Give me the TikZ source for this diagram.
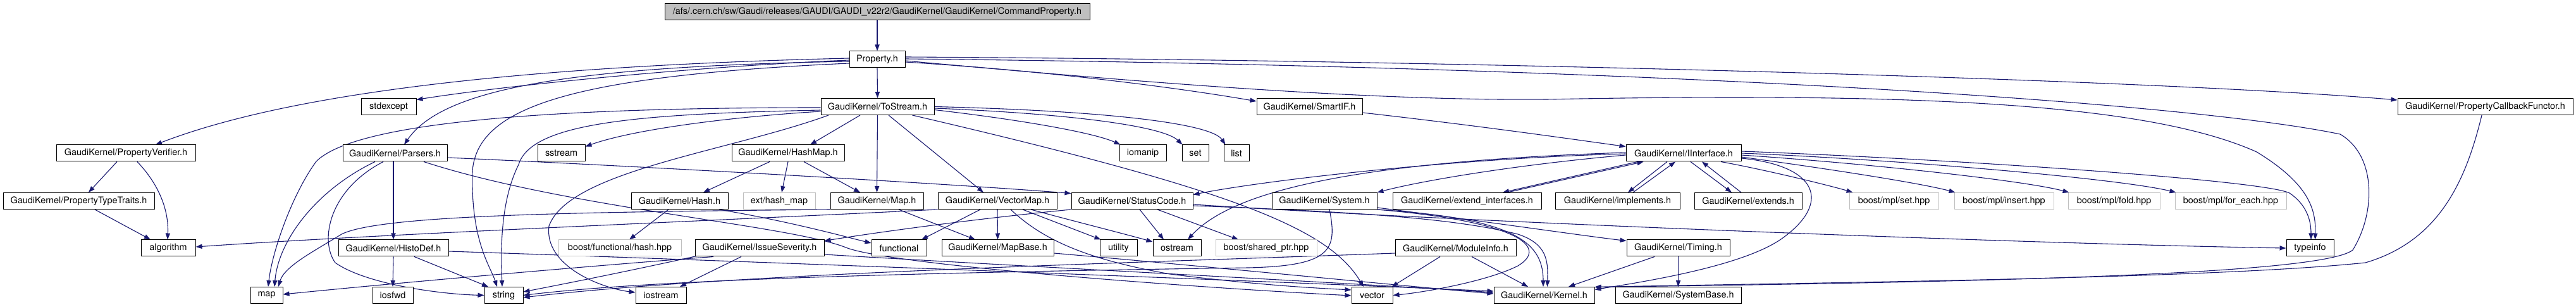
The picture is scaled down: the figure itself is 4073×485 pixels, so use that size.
\documentclass[tikz,border=0pt]{standalone}
\usepackage{fontspec}
\setmainfont{TeX Gyre Heros}
\usetikzlibrary{arrows.meta,calc}
\definecolor{edgec}{RGB}{25,25,112}
\definecolor{grayb}{RGB}{191,191,191}
\pgfdeclarelayer{back}
\pgfdeclarelayer{bg}
\pgfsetlayers{back,bg,main}
\tikzset{
  nd/.style={draw=black, line width=0.5pt, minimum height=13pt, inner sep=0pt, fill=white, font=\fontsize{7.2}{8.6}\selectfont},
  gnd/.style={nd, draw=grayb},
  mainnd/.style={nd, fill=grayb},
  edge/.style={draw=edgec, line width=0.55pt, -{Triangle[length=5pt,width=3.6pt]}},
}
\begin{document}
\begin{tikzpicture}[x=0.5pt,y=-0.5pt]
\begin{pgfonlayer}{back}
\fill[white] (0,0) rectangle (4073,485);
\end{pgfonlayer}
\useasboundingbox (0,0) rectangle (4073,485);
% row 0
\node[mainnd, minimum width=336pt] (main) at (1387,19) {/afs/.cern.ch/sw/Gaudi/releases/GAUDI/GAUDI\_v22r2/GaudiKernel/GaudiKernel/CommandProperty.h};
% row 1
\node[nd, minimum width=44pt] (property) at (1387,94) {Property.h};
% row 2
\node[nd, minimum width=43.5pt] (stdexcept) at (614.5,168.5) {stdexcept};
\node[nd, minimum width=89.5pt] (tostream) at (1387.5,168.5) {GaudiKernel/ToStream.h};
\node[nd, minimum width=83.5pt] (smartif) at (2070.5,168.5) {GaudiKernel/SmartIF.h};
\node[nd, minimum width=138.5pt] (callback) at (3929.5,168.5) {GaudiKernel/PropertyCallbackFunctor.h};
% row 3
\node[nd, minimum width=110pt] (propverifier) at (199,242) {GaudiKernel/PropertyVerifier.h};
\node[nd, minimum width=82.5pt] (parsers) at (624.5,242) {GaudiKernel/Parsers.h};
\node[nd, minimum width=37.5pt] (sstream) at (887.5,242) {sstream};
\node[nd, minimum width=89pt] (hashmap) at (1246,242) {GaudiKernel/HashMap.h};
\node[nd, minimum width=37pt] (iomanip) at (1807,242) {iomanip};
\node[nd, minimum width=21pt] (set) at (1890,242) {set};
\node[nd, minimum width=20pt] (list) at (1955,242) {list};
\node[nd, minimum width=91pt] (iinterface) at (2662,242) {GaudiKernel/IInterface.h};
% row 4
\node[nd, minimum width=119.5pt] (proptraits) at (124.5,317.5) {GaudiKernel/PropertyTypeTraits.h};
\node[nd, minimum width=76.5pt] (hash) at (1074.5,317.5) {GaudiKernel/Hash.h};
\node[gnd, minimum width=57pt] (exthashmap) at (1232,317.5) {ext/hash\_map};
\node[nd, minimum width=73.5pt] (maph) at (1386.5,317.5) {GaudiKernel/Map.h};
\node[nd, minimum width=94pt] (vectormap) at (1577,317.5) {GaudiKernel/VectorMap.h};
\node[nd, minimum width=96pt] (statuscode) at (1790,317.5) {GaudiKernel/StatusCode.h};
\node[nd, minimum width=83pt] (system) at (2094,317.5) {GaudiKernel/System.h};
\node[nd, minimum width=117.5pt] (extendif) at (2319.5,317.5) {GaudiKernel/extend\_interfaces.h};
\node[nd, minimum width=98.5pt] (implements) at (2557.5,317.5) {GaudiKernel/implements.h};
\node[nd, minimum width=85pt] (extends) at (2764,317.5) {GaudiKernel/extends.h};
\node[gnd, minimum width=70.5pt] (mplset) at (2994.5,317.5) {boost/mpl/set.hpp};
\node[gnd, minimum width=78.5pt] (mplinsert) at (3168.5,317.5) {boost/mpl/insert.hpp};
\node[gnd, minimum width=72.5pt] (mplfold) at (3342.5,317.5) {boost/mpl/fold.hpp};
\node[gnd, minimum width=88pt] (mplforeach) at (3527,317.5) {boost/mpl/for\_each.hpp};
% row 5
\node[nd, minimum width=43pt] (algorithm) at (266,392) {algorithm};
\node[nd, minimum width=87pt] (histodef) at (622,392) {GaudiKernel/HistoDef.h};
\node[gnd, minimum width=97pt] (boosthash) at (980,392) {boost/functional/hash.hpp};
\node[nd, minimum width=102pt] (issue) at (1201,392) {GaudiKernel/IssueSeverity.h};
\node[nd, minimum width=43.5pt] (functional) at (1421.5,392) {functional};
\node[nd, minimum width=88.5pt] (mapbase) at (1577.5,392) {GaudiKernel/MapBase.h};
\node[nd, minimum width=29.5pt] (utility) at (1768.5,392) {utility};
\node[nd, minimum width=38pt] (ostream) at (1861,392) {ostream};
\node[gnd, minimum width=80pt] (sharedptr) at (2002,392) {boost/shared\_ptr.hpp};
\node[nd, minimum width=95.5pt] (moduleinfo) at (2301.5,392) {GaudiKernel/ModuleInfo.h};
\node[nd, minimum width=81.5pt] (timing) at (2653.5,392) {GaudiKernel/Timing.h};
\node[nd, minimum width=37.5pt] (typeinfo) at (3652.5,392) {typeinfo};
% row 6
\node[nd, minimum width=25.5pt] (map) at (421.5,466.5) {map};
\node[nd, minimum width=32pt] (iosfwd) at (621,466.5) {iosfwd};
\node[nd, minimum width=30.5pt] (string) at (796.5,466.5) {string};
\node[nd, minimum width=40pt] (iostream) at (1045,466.5) {iostream};
\node[nd, minimum width=32.5pt] (vector) at (2169.5,466.5) {vector};
\node[nd, minimum width=79.5pt] (kernel) at (2441.5,466.5) {GaudiKernel/Kernel.h};
\node[nd, minimum width=99.5pt] (systembase) at (2653.5,466.5) {GaudiKernel/SystemBase.h};

\begin{pgfonlayer}{bg}
% CommandProperty.h / Property.h
\draw[edge] (main.south) -- (property.north);
\draw[edge] (property.south) -- (tostream.north);
\draw[edge] ($(property.west)+(0,-2)$) .. controls (800,105) and (450,150) .. ($(propverifier.north)+(47,0)$);
\draw[edge] ($(property.west)+(0,1)$) .. controls (1100,105) and (800,135) .. ($(stdexcept.north east)+(0,2.5)$);
\draw[edge] ($(property.west)+(0,3)$) .. controls (900,105) and (700,140) .. ($(parsers.north)+(14.5,0)$);
\draw[edge] ($(property.west)+(0,6)$) .. controls (900,120) and (755,170) .. (747,270) .. controls (744,380) and (775,420) .. ($(string.north)+(-10.5,0)$);
\draw[edge] ($(property.east)+(0,4)$) .. controls (1700,115) and (1900,145) .. ($(smartif.west)+(0,-8.5)$);
\draw[edge] ($(property.east)+(0,-4)$) .. controls (2300,95) and (3400,125) .. ($(callback.west)+(0,-10.5)$);
\draw[edge] ($(property.east)+(0,-1)$) .. controls (2600,105) and (3450,160) .. (3700,212) .. controls (3757,245) and (3757,335) .. (3720,395) .. controls (3670,435) and (3100,446) .. ($(kernel.east)+(0,-13)$);
\draw[edge] ($(property.east)+(0,2)$) .. controls (1750,125) and (2150,160) .. (2446,157) .. controls (3050,145) and (3400,165) .. (3568,240) .. controls (3650,290) and (3662,330) .. ($(typeinfo.north)+(8,0)$);
% ToStream.h
\draw[edge] ($(tostream.south)+(-27.5,0)$) -- ($(hashmap.north)+(35,0)$);
\draw[edge] (tostream.south) -- (maph.north);
\draw[edge] ($(tostream.south)+(17.5,0)$) -- ($(vectormap.north)+(-22,0)$);
\draw[edge] ($(tostream.east)+(0,5)$) .. controls (1620,190) and (1730,210) .. ($(iomanip.north west)+(2,0)$);
\draw[edge] ($(tostream.east)+(0,2.5)$) .. controls (1700,180) and (1840,200) .. ($(set.north west)+(1,0)$);
\draw[edge] (tostream.east) .. controls (1750,175) and (1915,195) .. ($(list.north west)+(3,0)$);
\draw[edge] ($(tostream.south)+(55,0)$) .. controls (1950,300) and (2100,360) .. ($(vector.north)+(-13.5,0)$);
\draw[edge] ($(tostream.west)+(0,7.5)$) .. controls (1150,185) and (1000,205) .. ($(sstream.north east)+(0,3)$);
\draw[edge] ($(tostream.west)+(0,1.5)$) .. controls (850,170) and (560,195) .. (500,255) .. controls (460,310) and (430,400) .. ($(map.north)+(2.5,0)$);
\draw[edge] ($(tostream.west)+(0,5.5)$) .. controls (1000,180) and (840,195) .. (820,260) .. controls (790,320) and (792,400) .. ($(string.north)+(-2.5,0)$);
\draw[edge] ($(tostream.south)+(-77.5,0)$) .. controls (1150,240) and (900,270) .. (868,357) .. controls (860,420) and (950,455) .. ($(iostream.west)+(0,-4.5)$);
% Parsers.h
\draw[edge] ($(parsers.south)+(-31.5,0)$) .. controls (500,300) and (440,380) .. ($(map.north)+(12.5,0)$);
\draw[edge] ($(parsers.south)+(-18.5,0)$) .. controls (520,300) and (505,380) .. (530,415) .. controls (580,450) and (700,465) .. (string.west);
\draw[edge] ($(parsers.south)+(-2.5,0)$) -- (histodef.north);
\draw[edge] ($(parsers.east)+(0,7)$) .. controls (1000,262) and (1500,290) .. ($(statuscode.north west)+(0,1.5)$);
\draw[edge] ($(parsers.south)+(45.5,0)$) .. controls (900,330) and (1250,355) .. (1340,392) .. controls (1420,420) and (1900,455) .. ($(vector.west)+(0,0.5)$);
% HistoDef.h
\draw[edge] (histodef.south) -- (iosfwd.north);
\draw[edge] ($(histodef.south)+(33,0)$) -- ($(string.north)+(-24.5,0)$);
\draw[edge] ($(histodef.east)+(0,5)$) .. controls (1100,410) and (1900,440) .. ($(kernel.west)+(0,-6.5)$);
% PropertyVerifier.h
\draw[edge] ($(propverifier.south)+(-14,0)$) -- ($(proptraits.north)+(15.5,0)$);
\draw[edge] ($(propverifier.south)+(18,0)$) .. controls (250,290) and (267,330) .. ($(algorithm.north)+(-1,0)$);
\draw[edge] ($(proptraits.south)+(25.5,0)$) -- ($(algorithm.north)+(-28,0)$);
% VectorMap.h
\draw[edge] (vectormap.south west) .. controls (1100,350) and (600,370) .. ($(algorithm.east)+(0,-2)$);
\draw[edge] ($(vectormap.south)+(-27,0)$) -- ($(functional.north)+(35.5,0)$);
\draw[edge] (vectormap.south) -- (mapbase.north);
\draw[edge] ($(vectormap.south)+(40,0)$) -- ($(utility.north west)+(2,0)$);
\draw[edge] ($(vectormap.south)+(53,0)$) .. controls (1700,350) and (1780,370) .. ($(ostream.west)+(0,-10)$);
\draw[edge] ($(vectormap.south)+(21,0)$) .. controls (1650,380) and (1720,410) .. (1850,433) .. controls (2000,452) and (2100,456) .. ($(vector.west)+(0,-8.5)$);
% Map.h
\draw[edge] ($(maph.south)+(34.5,0)$) -- ($(mapbase.north)+(-35.5,0)$);
\draw[edge] (maph.south west) .. controls (900,335) and (600,340) .. (540,370) .. controls (500,395) and (450,420) .. ($(map.north)+(18.5,0)$);
% HashMap.h
\draw[edge] ($(hashmap.south)+(-29,0)$) -- ($(hash.north)+(37.5,0)$);
\draw[edge] (hashmap.south) -- ($(exthashmap.north)+(4,0)$);
\draw[edge] ($(hashmap.south)+(25,0)$) -- ($(maph.north)+(-26.5,0)$);
% Hash.h
\draw[edge] ($(hash.south)+(-17.5,0)$) -- ($(boosthash.north)+(15,0)$);
\draw[edge] ($(hash.south)+(62.5,0)$) .. controls (1250,350) and (1340,375) .. ($(functional.west)+(0,-8)$);
% StatusCode.h
\draw[edge] ($(statuscode.south)+(12,0)$) -- ($(ostream.north)+(-21,0)$);
\draw[edge] ($(statuscode.south)+(40,0)$) -- ($(sharedptr.north)+(-44,0)$);
\draw[edge] (statuscode.south west) .. controls (1550,345) and (1400,365) .. ($(issue.north east)+(0,2)$);
\draw[edge] ($(statuscode.east)+(0,5.5)$) .. controls (2300,350) and (3200,385) .. (typeinfo.west);
\draw[edge] ($(statuscode.east)+(0,7.5)$) .. controls (2150,335) and (2300,345) .. (2400,370) .. controls (2445,385) and (2448,410) .. ($(kernel.north)+(5,0)$);
% IssueSeverity.h
\draw[edge] ($(issue.south)+(-29,0)$) -- ($(iostream.north)+(30,0)$);
\draw[edge] ($(issue.south)+(-73,0)$) .. controls (1000,415) and (700,440) .. ($(map.east)+(0,-1.5)$);
\draw[edge] ($(issue.south west)+(3,-1)$) .. controls (1000,427) and (900,447) .. ($(string.east)+(0,-5.5)$);
\draw[edge] ($(issue.east)+(0,10)$) .. controls (1600,420) and (2100,445) .. ($(kernel.west)+(0,-4.5)$);
% MapBase.h
\draw[edge] ($(mapbase.east)+(0,8)$) .. controls (1900,420) and (2200,450) .. ($(kernel.west)+(0,-2.5)$);
% System.h
\draw[edge] ($(system.south)+(8,0)$) .. controls (2115,395) and (2105,420) .. (1974,423) .. controls (1500,430) and (1050,440) .. (string.east);
\draw[edge] (system.south east) .. controls (2400,350) and (2450,390) .. (2400,420) .. controls (2350,445) and (2250,462) .. (vector.east);
\draw[edge] (system.south east) .. controls (2390,345) and (2440,380) .. ($(kernel.north)+(-1.5,0)$);
\draw[edge] ($(system.east)+(0,10.5)$) .. controls (2350,350) and (2500,372) .. ($(timing.north west)+(0,2)$);
% ModuleInfo.h
\draw[edge] ($(moduleinfo.south)+(-24.5,0)$) -- ($(vector.north east)+(-2,0)$);
\draw[edge] ($(moduleinfo.south)+(25.5,0)$) -- ($(kernel.north)+(-25.5,0)$);
\draw[edge] ($(moduleinfo.west)+(0,8)$) .. controls (1800,415) and (1150,432) .. ($(string.east)+(0,3.5)$);
% Timing.h
\draw[edge] ($(timing.south)+(-37.5,0)$) -- ($(kernel.north)+(38.5,0)$);
\draw[edge] (timing.south) -- (systembase.north);
% IInterface.h
\draw[edge] ($(iinterface.west)+(0,3)$) .. controls (2400,260) and (2250,285) .. (system.north east);
\draw[edge] ($(iinterface.west)+(0,1)$) .. controls (2300,250) and (2000,285) .. ($(statuscode.east)+(0,-10)$);
\draw[edge] ($(iinterface.west)+(0,-1)$) .. controls (2150,255) and (1950,300) .. ($(ostream.north)+(17,0)$);
\draw[edge] ($(iinterface.south west)+(19,0)$) -- ($(extendif.north)+(56.5,0)$);
\draw[edge] ($(extendif.north)+(63.5,0)$) -- ($(iinterface.south west)+(28,0)$);
\draw[edge] ($(iinterface.south)+(-26,0)$) -- ($(implements.north)+(16.5,0)$);
\draw[edge] ($(implements.north)+(24.5,0)$) -- ($(iinterface.south)+(-13,0)$);
\draw[edge] ($(iinterface.south)+(11,0)$) -- ($(extends.north)+(-26,0)$);
\draw[edge] ($(extends.north)+(-11,0)$) -- ($(iinterface.south)+(29,0)$);
\draw[edge] ($(iinterface.south)+(59,0)$) .. controls (2800,270) and (2900,295) .. ($(mplset.north west)+(6,0)$);
\draw[edge] ($(iinterface.east)+(0,6)$) .. controls (2900,268) and (3040,290) .. ($(mplinsert.north west)+(2,0)$);
\draw[edge] ($(iinterface.east)+(0,3)$) .. controls (2950,258) and (3200,285) .. ($(mplfold.north west)+(2,0)$);
\draw[edge] (iinterface.east) .. controls (3000,252) and (3350,282) .. ($(mplforeach.north west)+(2,0)$);
\draw[edge] ($(iinterface.east)+(0,-3)$) .. controls (3100,252) and (3580,285) .. (3620,305) .. controls (3645,322) and (3654,345) .. ($(typeinfo.north)+(1.5,0)$);
\draw[edge] ($(iinterface.east)+(0,8)$) .. controls (2875,262) and (2895,320) .. (2820,375) .. controls (2760,420) and (2600,445) .. ($(kernel.east)+(0,-9)$);
% SmartIF.h / PropertyCallbackFunctor.h
\draw[edge] ($(smartif.east)+(0,9.5)$) .. controls (2350,200) and (2500,222) .. ($(iinterface.north west)+(0,3)$);
\draw[edge] ($(callback.south)+(-5.5,0)$) .. controls (3900,280) and (3860,380) .. (3740,415) .. controls (3500,440) and (2900,446) .. ($(kernel.east)+(0,-13)$);
\end{pgfonlayer}
\end{tikzpicture}
\end{document}
